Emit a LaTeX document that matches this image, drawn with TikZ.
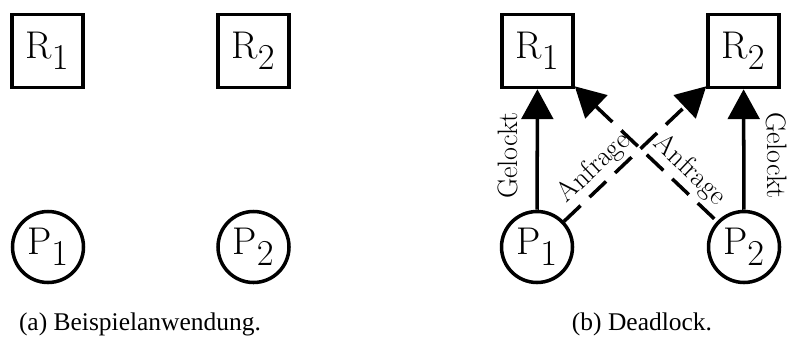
\documentclass[tikz,border=0pt]{standalone}
\usepackage{fontspec}
\usepackage{tikz}
\usetikzlibrary{arrows.meta}
\newfontfamily\captfont{Liberation Serif}
\newcommand{\idx}[2]{$\mathrm{#1}_{\textstyle #2}$}
\tikzset{
  ressource/.style={draw,rectangle,line width=2pt,minimum width=1.42cm,minimum height=1.46cm,inner sep=0pt,font=\fontsize{22}{24}\selectfont},
  prozess/.style={draw,circle,line width=2pt,minimum size=1.42cm,inner sep=0pt,font=\fontsize{22}{24}\selectfont},
  spitze/.style={-{Triangle[length=17pt,width=18pt]}},
  pfeil/.style={spitze,line width=2pt},
  pfeilg/.style={pfeil,dash pattern=on 13pt off 7pt},
  etikett/.style={font=\fontsize{16}{18}\selectfont,sloped,above,inner sep=2pt},
  titel/.style={font=\captfont\fontsize{14.5}{17}\selectfont,anchor=base},
}
\begin{document}
\begin{tikzpicture}
  \useasboundingbox (0,0) rectangle (15.8,6.72);
  % (a) Beispielanwendung
  \node[ressource] (ar1) at (0.95,5.70) {\idx{R}{1}};
  \node[ressource] (ar2) at (5.07,5.70) {\idx{R}{2}};
  \node[prozess] (ap1) at (0.96,1.78) {\idx{P}{1}};
  \node[prozess] (ap2) at (5.07,1.78) {\idx{P}{2}};
  \node[titel] (capa) at (2.80,0.12) {(a) Beispielanwendung.};
  % (b) Deadlock
  \node[ressource] (br1) at (10.75,5.70) {\idx{R}{1}};
  \node[ressource] (br2) at (14.87,5.70) {\idx{R}{2}};
  \node[prozess] (bp1) at (10.74,1.78) {\idx{P}{1}};
  \node[prozess] (bp2) at (14.88,1.78) {\idx{P}{2}};
  \node[titel] (capb) at (12.84,0.12) {(b) Deadlock.};
  \draw[pfeil] (bp1) -- node[etikett,pos=0.45,inner sep=10pt] {Gelockt} (br1);
  \draw[pfeil,{Triangle[length=17pt,width=18pt]}-] (br2) -- node[etikett,pos=0.55,inner sep=12pt] {Gelockt} (bp2);
  \draw[pfeilg] (bp1) -- node[etikett,pos=0.3] {Anfrage} (br2);
  \draw[pfeilg,{Triangle[length=17pt,width=18pt]}-] (br1) -- node[etikett,pos=0.72] {Anfrage} (bp2);
\end{tikzpicture}
\end{document}
